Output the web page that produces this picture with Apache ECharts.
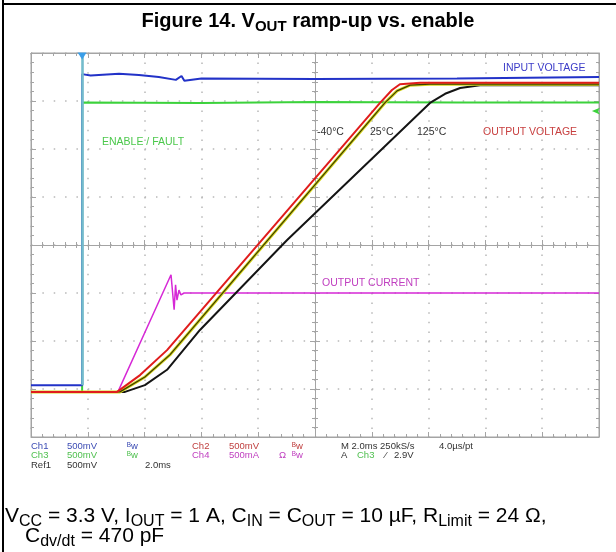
<!DOCTYPE html>
<html>
<head>
<meta charset="utf-8">
<title>Figure 14. VOUT ramp-up vs. enable</title>
<script src="https://cdn.jsdelivr.net/npm/echarts@6/dist/echarts.min.js"></script>
<style>
  html, body { margin: 0; padding: 0; background: #fff; }
  #chart { width: 616px; height: 552px; }
</style>
</head>
<body>
<div id="chart"></div>
<script>
// x = time in ms (2 ms/div, screen centre = 0), y = screen divisions (500 mV/div, 500 mA/div)
const inputVoltage = [[-10, -2.92], [-8.2, -2.92], [-8.2, 3.56], [-7.9, 3.53], [-6.9, 3.57], [-6.2, 3.54], [-5.5, 3.5], [-4.9, 3.44], [-4.7, 3.52], [-4.6, 3.42], [-4.0, 3.47], [0, 3.46], [5, 3.47], [10, 3.5]];
const enableFault = [[-10, -3.06], [-8.2, -3.06], [-8.2, 2.97], [-4, 2.96], [0, 2.98], [5, 2.97], [10, 2.97]];
const vout40 = [[-10, -3.06], [-6.97, -3.06], [-6.16, -2.71], [-5.21, -2.19], [2.29, 2.96], [2.71, 3.23], [2.99, 3.35], [3.7, 3.38], [10, 3.38]];
const vout25 = [[-10, -3.06], [-6.87, -3.06], [-5.99, -2.75], [-5.11, -2.29], [2.46, 2.96], [2.89, 3.21], [3.35, 3.33], [4.05, 3.35], [10, 3.35]];
const vout125 = [[-10, -3.06], [-6.69, -3.06], [-5.99, -2.92], [-5.21, -2.6], [-4.05, -1.77], [-0.99, 0.1], [4.05, 2.96], [4.58, 3.15], [5.11, 3.27], [5.81, 3.33], [10, 3.33]];
const outputCurrent = [[-10, -3.06], [-6.94, -3.06], [-5.07, -0.62], [-4.96, -1.35], [-4.91, -0.83], [-4.86, -1.15], [-4.79, -0.94], [-4.72, -1.04], [-4.61, -1.0], [0, -1.0], [10, -1.0]];
const triggerAt = -8.2;

// scope screen annotations
const traceLabels = [
    ['INPUT VOLTAGE', 503, 68, '#3c3cc8'],
    ['ENABLE / FAULT', 102, 142, '#4cc84c'],
    ['-40°C', 317, 132, '#333333'],
    ['25°C', 370, 132, '#333333'],
    ['125°C', 417, 132, '#333333'],
    ['OUTPUT VOLTAGE', 483, 132, '#c84040'],
    ['OUTPUT CURRENT', 322, 283, '#c040c0']
];
const statusRows = [
    [['Ch1', 31, '#3c4cb4'], ['500mV', 67, '#3c4cb4'], ['ᴮw', 127, '#3c4cb4'], ['Ch2', 192, '#c04040'], ['500mV', 229, '#c04040'], ['ᴮw', 292, '#c04040'], ['M 2.0ms 250kS/s', 341, '#333'], ['4.0µs/pt', 439, '#333']],
    [['Ch3', 31, '#50c050'], ['500mV', 67, '#50c050'], ['ᴮw', 127, '#50c050'], ['Ch4', 192, '#c040c0'], ['500mA', 229, '#c040c0'], ['Ω', 279, '#c040c0'], ['ᴮw', 292, '#c040c0'], ['A', 341, '#333'], ['Ch3', 357, '#50c050'], ['⁄', 385, '#333'], ['2.9V', 394, '#333']],
    [['Ref1', 31, '#333'], ['500mV', 67, '#333'], ['2.0ms', 145, '#333']]
];

const frame = '#a4a4a4';
const dots = '#b8b8b8';
const scopeFont = '"Liberation Sans", "DejaVu Sans", sans-serif';

const chart = echarts.init(document.getElementById('chart'));

const edgeTick = { inside: true, length: 5, lineStyle: { color: frame } };
const edgeMinor = { show: true, splitNumber: 5, length: 3, lineStyle: { color: frame } };

const graphics = [
    { type: 'line', shape: { x1: 3, y1: 0, x2: 3, y2: 552 }, style: { stroke: '#000', lineWidth: 2 } },
    { type: 'line', shape: { x1: 2, y1: 4, x2: 616, y2: 4 }, style: { stroke: '#000', lineWidth: 2 } }
];
traceLabels.forEach(l => {
    graphics.push({
        type: 'text', x: l[1], y: l[2], z: 10,
        style: { text: l[0], fill: l[3], fontSize: 10.5, fontFamily: scopeFont, verticalAlign: 'middle', textVerticalAlign: 'middle' }
    });
});
statusRows.forEach((row, i) => {
    row.forEach(c => {
        graphics.push({
            type: 'text', x: c[1], y: 446 + i * 9.5, z: 10,
            style: { text: c[0], fill: c[2], fontSize: 9.5, fontFamily: scopeFont, verticalAlign: 'middle', textVerticalAlign: 'middle' }
        });
    });
});

const capRich = {
    n: { fontSize: 21, fontFamily: 'Liberation Sans', color: '#000', verticalAlign: 'top' },
    s: { fontSize: 16, fontFamily: 'Liberation Sans', color: '#000', verticalAlign: 'top', padding: [8, 0, 0, 0] }
};
graphics.push({
    type: 'text', x: 5, y: 506,
    style: {
        text: '{n|V}{s|CC}{n| = 3.3 V, I}{s|OUT}{n| = 1 A, C}{s|IN}{n| = C}{s|OUT}{n| = 10 µF, R}{s|Limit}{n| = 24 Ω,}',
        rich: capRich, verticalAlign: 'top', textVerticalAlign: 'top'
    }
});
graphics.push({
    type: 'text', x: 25, y: 526,
    style: {
        text: '{n|C}{s|dv/dt}{n| = 470 pF}',
        rich: capRich, verticalAlign: 'top', textVerticalAlign: 'top'
    }
});

const option = {
    animation: false,
    backgroundColor: '#fff',
    title: {
        text: '{a|Figure 14. V}{b|OUT}{a| ramp-up vs. enable}',
        left: 'center',
        top: 11,
        padding: 0,
        textStyle: {
            rich: {
                a: { fontSize: 20, fontWeight: 'bold', fontFamily: 'Liberation Sans', color: '#000', verticalAlign: 'top' },
                b: { fontSize: 15, fontWeight: 'bold', fontFamily: 'Liberation Sans', color: '#000', verticalAlign: 'top', padding: [8, 0, 0, 0] }
            }
        }
    },
    grid: { left: 31, top: 53, width: 568, height: 384, show: true, borderColor: frame, borderWidth: 1, backgroundColor: '#fff' },
    xAxis: [
        {
            type: 'value', min: -10, max: 10, interval: 2, position: 'bottom',
            axisLine: { onZero: false, lineStyle: { color: frame } },
            axisTick: edgeTick, minorTick: edgeMinor, axisLabel: { show: false },
            splitLine: { show: true, lineStyle: { color: dots, width: 1.5, type: [1.5, 8.1] } }
        },
        {
            type: 'value', min: -10, max: 10, interval: 2, position: 'top',
            axisLine: { onZero: false, lineStyle: { color: frame } },
            axisTick: edgeTick, minorTick: edgeMinor, axisLabel: { show: false }, splitLine: { show: false }
        },
        {
            type: 'value', min: -10, max: 10, interval: 2, position: 'bottom',
            axisLine: { onZero: true, onZeroAxisIndex: 0, lineStyle: { color: frame } },
            axisTick: { inside: true, length: 5, lineStyle: { color: frame } },
            minorTick: { show: true, splitNumber: 5, length: 3, lineStyle: { color: frame } },
            axisLabel: { show: false }, splitLine: { show: false }
        },
        {
            type: 'value', min: -10, max: 10, interval: 2, position: 'bottom',
            axisLine: { onZero: true, onZeroAxisIndex: 0, lineStyle: { color: frame } },
            axisTick: { inside: false, length: 5, lineStyle: { color: frame } },
            minorTick: { show: true, splitNumber: 5, length: 3, lineStyle: { color: frame } },
            axisLabel: { show: false }, splitLine: { show: false }
        }
    ],
    yAxis: [
        {
            type: 'value', min: -4, max: 4, interval: 1, position: 'left',
            axisLine: { onZero: false, lineStyle: { color: frame } },
            axisTick: edgeTick, minorTick: edgeMinor, axisLabel: { show: false },
            splitLine: { show: true, lineStyle: { color: dots, width: 1.5, type: [1.5, 9.86] } }
        },
        {
            type: 'value', min: -4, max: 4, interval: 1, position: 'right',
            axisLine: { onZero: false, lineStyle: { color: frame } },
            axisTick: edgeTick, minorTick: edgeMinor, axisLabel: { show: false }, splitLine: { show: false }
        },
        {
            type: 'value', min: -4, max: 4, interval: 1, position: 'left',
            axisLine: { onZero: true, onZeroAxisIndex: 0, lineStyle: { color: frame } },
            axisTick: { inside: true, length: 5, lineStyle: { color: frame } },
            minorTick: { show: true, splitNumber: 5, length: 3, lineStyle: { color: frame } },
            axisLabel: { show: false }, splitLine: { show: false }
        },
        {
            type: 'value', min: -4, max: 4, interval: 1, position: 'left',
            axisLine: { onZero: true, onZeroAxisIndex: 0, lineStyle: { color: frame } },
            axisTick: { inside: false, length: 5, lineStyle: { color: frame } },
            minorTick: { show: true, splitNumber: 5, length: 3, lineStyle: { color: frame } },
            axisLabel: { show: false }, splitLine: { show: false }
        }
    ],
    series: [
        {
            name: 'ENABLE / FAULT', type: 'line', data: enableFault, showSymbol: false,
            lineStyle: { color: '#3cd23c', width: 2 },
            markPoint: {
                silent: true, symbol: 'arrow', symbolRotate: 90, symbolSize: [5, 8],
                itemStyle: { color: '#3cd23c' }, label: { show: false },
                data: [{ coord: [9.75, 2.79] }]
            }
        },
        { name: 'INPUT VOLTAGE', type: 'line', data: inputVoltage, showSymbol: false, lineStyle: { color: '#2232c8', width: 2 } },
        { name: 'OUTPUT CURRENT', type: 'line', data: outputCurrent, showSymbol: false, lineStyle: { color: '#d629d6', width: 1.5 } },
        { name: '125°C', type: 'line', data: vout125, showSymbol: false, lineStyle: { color: '#141414', width: 2 } },
        { name: '25°C halo', type: 'line', data: vout25, showSymbol: false, lineStyle: { color: '#d6d61e', width: 3 } },
        { name: '25°C', type: 'line', data: vout25, showSymbol: false, lineStyle: { color: '#3c3c00', width: 1.2 } },
        { name: '-40°C', type: 'line', data: vout40, showSymbol: false, lineStyle: { color: '#e01c1c', width: 2 } },
        {
            name: 'trigger', type: 'line', data: [], showSymbol: false, z: 5,
            markLine: {
                silent: true, symbol: 'none', label: { show: false },
                lineStyle: { color: '#74bccc', width: 2.6, type: 'solid' },
                data: [[{ coord: [triggerAt, -2.92] }, { coord: [triggerAt, 4] }]]
            },
            markPoint: {
                silent: true, symbol: 'triangle', symbolRotate: 180, symbolSize: [9, 7], symbolOffset: [0, 3],
                itemStyle: { color: '#3a9ee8' }, label: { show: false },
                data: [{ coord: [triggerAt, 4] }]
            }
        }
    ],
    graphic: graphics
};

chart.setOption(option);
</script>
</body>
</html>
